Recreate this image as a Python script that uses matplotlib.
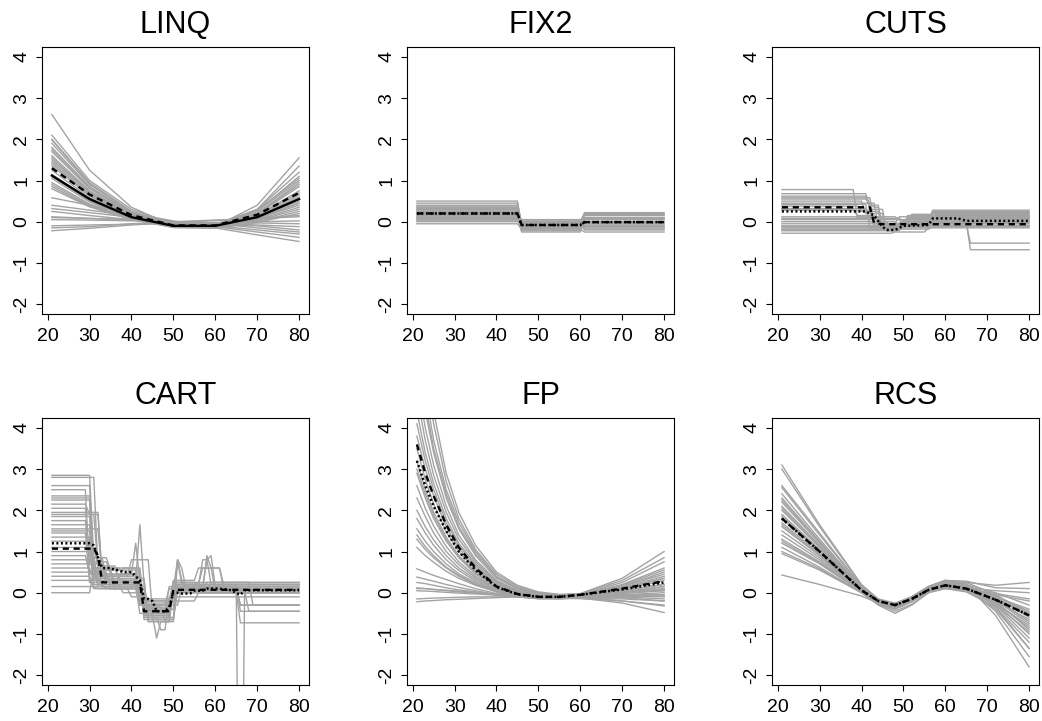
import numpy as np
import matplotlib
matplotlib.use("Agg")
import matplotlib.pyplot as plt

plt.rcParams['font.family'] = ['Liberation Sans', 'DejaVu Sans']
plt.rcParams['axes.unicode_minus'] = False

GREY = '#a3a3a3'

# ---------------- LINQ ----------------
linq_x = [21, 30, 40, 50, 60, 70, 80]
linq_grey = [
    [2.6, 1.25, 0.35, -0.1, -0.12, 0.4, 1.55],
    [2.1, 1.0, 0.3, -0.05, -0.1, 0.3, 1.2],
    [2.0, 0.95, 0.25, -0.08, -0.1, 0.25, 1.0],
    [1.9, 0.9, 0.25, -0.06, -0.08, 0.3, 1.35],
    [1.8, 0.85, 0.2, -0.1, -0.1, 0.2, 0.9],
    [1.7, 0.8, 0.2, -0.08, -0.12, 0.15, 0.75],
    [1.6, 0.75, 0.18, -0.1, -0.08, 0.25, 1.1],
    [1.5, 0.72, 0.17, -0.09, -0.1, 0.15, 0.7],
    [1.45, 0.68, 0.15, -0.1, -0.12, 0.1, 0.55],
    [1.35, 0.62, 0.13, -0.11, -0.1, 0.18, 0.85],
    [1.25, 0.58, 0.12, -0.1, -0.11, 0.1, 0.5],
    [1.15, 0.53, 0.1, -0.12, -0.12, 0.08, 0.45],
    [1.05, 0.48, 0.08, -0.12, -0.1, 0.12, 0.6],
    [0.95, 0.43, 0.06, -0.13, -0.12, 0.05, 0.35],
    [0.85, 0.38, 0.05, -0.12, -0.13, 0.03, 0.3],
    [0.8, 0.36, 0.05, -0.1, -0.08, 0.08, 0.4],
    [1.98, 0.92, 0.22, -0.12, -0.15, 0.12, 0.65],
    [1.75, 0.83, 0.21, -0.07, -0.06, 0.28, 1.05],
    [1.55, 0.72, 0.16, -0.13, -0.14, 0.08, 0.45],
    [1.4, 0.65, 0.14, -0.09, -0.07, 0.2, 0.95],
    [1.1, 0.5, 0.09, -0.14, -0.15, 0.0, 0.25],
    [0.9, 0.4, 0.05, -0.14, -0.16, -0.02, 0.2],
    [0.58, 0.4, 0.2, 0.02, -0.15, -0.32, -0.48],
    [0.4, 0.28, 0.14, 0.0, -0.12, -0.25, -0.38],
    [0.32, 0.22, 0.11, 0.0, -0.1, -0.2, -0.3],
    [0.12, 0.08, 0.04, 0.0, -0.04, -0.08, -0.12],
    [0.05, 0.04, 0.02, 0.0, -0.02, -0.03, -0.05],
    [-0.15, -0.12, -0.05, 0.0, 0.04, 0.08, 0.12],
    [-0.22, -0.16, -0.08, -0.02, 0.03, 0.08, 0.15],
    [0.25, 0.15, 0.05, -0.05, -0.08, -0.1, -0.2],
    [-0.1, -0.08, -0.06, -0.04, -0.02, 0.0, 0.02],
    [0.1, 0.08, 0.05, 0.0, -0.05, -0.15, -0.25],
]
linq_true = [1.12, 0.55, 0.11, -0.1, -0.1, 0.11, 0.55]
linq_mean = [1.3, 0.66, 0.16, -0.09, -0.09, 0.17, 0.7]

# ---------------- FIX2 ----------------
fix2_starts = [21, 46, 61]
fix2_grey = [
    [0.5, -0.1, 0.0], [0.45, -0.05, 0.15], [0.4, -0.2, 0.1], [0.35, 0.0, -0.1],
    [0.3, -0.1, 0.22], [0.25, -0.15, -0.05], [0.2, -0.08, 0.0], [0.15, 0.05, -0.2],
    [0.1, -0.25, 0.05], [0.05, -0.12, -0.15], [0.0, -0.02, 0.1], [-0.05, -0.18, -0.25],
    [0.28, -0.06, 0.18], [0.18, -0.22, -0.02], [0.12, -0.04, 0.08], [0.38, -0.14, -0.12],
    [0.22, 0.02, 0.2], [0.08, -0.09, -0.08], [0.32, -0.17, 0.05], [0.02, -0.07, -0.18],
]
fix2_mean = [0.2, -0.08, -0.01]
fix2_median = [0.2, -0.08, -0.01]

# ---------------- CUTS ----------------
cuts_starts = [
    [21, 39, 45, 50, 57], [21, 42, 45, 51, 57], [21, 42, 46, 50, 57], [21, 43, 49, 57],
    [21, 42, 44, 51, 58], [21, 41, 46, 50, 56], [21, 43, 45, 52, 57], [21, 42, 49, 57],
    [21, 40, 45, 50, 57], [21, 42, 47, 51, 58], [21, 39, 44, 50, 57], [21, 43, 50, 56],
    [21, 49, 57], [21, 50, 58], [21, 49, 56], [21, 50, 57], [21, 49, 57, 66],
    [21, 50, 57], [21, 49, 57, 66], [21, 49, 57], [21, 48, 56], [21, 50, 57],
    [21, 49, 57], [21, 50, 58],
]
cuts_levels = [
    [0.78, 0.1, -0.15, 0.0, 0.28], [0.68, 0.4, -0.1, 0.1, 0.25], [0.62, 0.3, -0.2, 0.05, 0.2],
    [0.58, -0.05, 0.12, 0.22], [0.55, 0.45, -0.12, 0.15, 0.18], [0.5, 0.2, -0.22, -0.05, 0.15],
    [0.45, 0.35, -0.08, 0.18, 0.12], [0.42, -0.15, -0.02, 0.1], [0.38, 0.25, -0.18, 0.0, 0.08],
    [0.32, 0.0, -0.12, 0.08, 0.05], [0.3, 0.15, -0.05, -0.1, 0.0], [0.28, -0.1, -0.05, -0.08],
    [0.12, 0.05, 0.15], [0.05, -0.05, 0.1], [0.0, -0.12, -0.02], [-0.05, 0.0, 0.05],
    [-0.1, -0.15, -0.05, -0.52], [-0.15, -0.08, -0.1], [-0.18, -0.12, 0.0, -0.68],
    [-0.22, -0.18, -0.12], [-0.28, -0.25, -0.15], [-0.12, -0.1, 0.02], [-0.2, -0.05, -0.04],
    [0.08, 0.02, 0.12],
]
cuts_mean_x = [21, 42, 43, 45, 80]
cuts_mean = [0.35, 0.35, -0.03, -0.06, -0.06]
cuts_med_x = [21, 41, 43, 45, 46, 48, 50, 56, 57, 63, 65, 80]
cuts_med = [0.25, 0.25, 0.15, -0.12, -0.2, -0.2, -0.1, -0.08, 0.08, 0.08, 0.02, 0.02]

# ---------------- CART ----------------
cart_starts = [
    [21, 31, 34, 43, 50, 57], [21, 32, 36, 42, 49, 51, 52, 58], [21, 31, 37, 43, 51, 61],
    [21, 30, 33, 44, 50], [21, 31, 35, 41, 42, 44, 50, 58, 59, 60],
    [21, 31, 34, 43, 48, 50], [21, 30, 32, 42, 43, 44, 47, 49, 51],
    [21, 32, 38, 43, 46, 47, 50, 57], [21, 31, 33, 43, 51, 52, 53, 66],
    [21, 30, 34, 42, 50, 56, 62, 66], [21, 33, 40, 45, 50, 58],
    [21, 31, 36, 44, 51, 57, 59, 60], [21, 31, 35, 43, 49, 66, 67],
    [21, 31, 33, 42, 45, 50, 66], [21, 32, 37, 43, 50, 59, 69],
    [21, 31, 34, 41, 44, 51, 52, 53], [21, 30, 36, 43, 50], [21, 31, 35, 43, 50, 57, 62],
    [21, 32, 42, 49, 56], [21, 31, 39, 43, 51], [21, 32, 38, 44, 50],
    [21, 31, 42, 44, 50, 66], [21, 31, 43, 50], [21, 32, 40, 43, 50, 56],
    [21, 31, 42, 51], [21, 30, 33, 41, 43, 49, 52, 58, 59], [21, 33, 38, 43, 50],
    [21, 31, 35, 43, 50, 60, 68], [21, 31, 36, 43, 50], [21, 30, 35, 43, 50],
]
cart_levels = [
    [2.85, 0.85, 0.4, -0.55, 0.2, 0.15], [2.8, 0.55, 0.2, -0.3, 0.1, 0.8, 0.2, 0.1],
    [2.6, 0.6, 0.35, -0.65, 0.05, 0.2], [2.5, 0.3, 0.15, -0.45, 0.15],
    [2.35, 0.75, 0.45, 1.2, 0.3, -0.6, 0.1, 0.9, 0.6, 0.05],
    [2.25, 0.5, 0.25, -0.35, -0.7, 0.25], [2.05, 0.9, 0.3, 1.65, 0.2, -0.6, -0.9, -0.1, 0.1],
    [1.9, 0.6, 0.45, -0.55, -1.1, -0.7, 0.1, 0.0], [1.85, 0.5, 0.15, -0.4, 0.8, 0.3, 0.15, -0.3],
    [1.75, 0.7, 0.25, -0.2, 0.3, 0.6, 0.2, -0.45], [1.55, 0.4, 0.8, -0.5, 0.05, 0.25],
    [1.5, 0.35, 0.1, -0.65, 0.2, 0.8, 0.9, 0.15], [1.35, 0.5, 0.1, -0.45, 0.15, -10.0, 0.0],
    [1.25, 0.3, 0.45, -0.3, -0.55, 0.0, -0.73], [1.1, 0.65, 0.3, -0.25, 0.1, 0.25, -0.3],
    [1.0, 0.2, 0.1, 0.35, -0.7, 0.8, 0.6, 0.1], [0.9, 0.45, 0.25, -0.2, 0.05],
    [0.8, 0.85, 0.55, -0.35, 0.2, 0.6, 0.1], [0.7, 0.15, -0.5, -0.2, 0.0],
    [0.6, 0.3, 0.25, -0.6, 0.15], [0.5, 0.2, 0.0, -0.4, -0.1],
    [0.4, 0.1, -0.25, -0.7, 0.1, -0.3], [0.3, 0.15, -0.3, 0.1], [0.15, 0.1, -0.1, -0.45, 0.25, 0.2],
    [0.0, 0.6, -0.15, 0.05], [2.15, 1.9, 0.4, 0.5, -0.5, -0.3, 0.15, 0.8, 0.2],
    [1.95, 0.35, 0.6, -0.4, 0.0], [2.3, 0.4, 0.2, -0.6, 0.15, 0.05, -0.45],
    [1.65, 0.55, 0.2, -0.55, 0.1], [1.45, 0.25, 0.3, -0.3, 0.2],
]
cart_mean_starts = [21, 32, 33, 43, 50]
cart_mean = [1.07, 0.9, 0.25, -0.45, 0.07]
cart_med_starts = [21, 31, 32, 33, 36, 38, 41, 42, 43, 45, 46, 49, 50, 52, 55, 58, 62,
                   64, 65, 66, 67]
cart_med = [1.2, 1.15, 0.85, 0.6, 0.55, 0.5, 0.4, 0.3, -0.15, -0.2, -0.45, -0.35, 0.0,
            -0.02, 0.05, 0.1, 0.08, 0.05, 0.0, -0.05, 0.06]

# ---------------- FP ----------------
fp_x = [21, 23, 25, 28, 31, 35, 40, 45, 50, 55, 60, 70, 80]
fp_grey = [
    [7.5, 5.5, 4.1, 2.7, 1.8, 1.05, 0.45, 0.15, 0.0, -0.05, -0.05, 0.2, 0.6],
    [6.5, 4.9, 3.7, 2.5, 1.7, 1.0, 0.4, 0.12, -0.02, -0.06, -0.04, 0.25, 0.75],
    [5.8, 4.4, 3.4, 2.3, 1.55, 0.9, 0.35, 0.1, -0.03, -0.07, -0.05, 0.15, 0.45],
    [5.2, 4.0, 3.1, 2.1, 1.4, 0.8, 0.3, 0.06, -0.05, -0.08, -0.06, 0.1, 0.35],
    [4.8, 3.7, 2.85, 1.95, 1.3, 0.75, 0.28, 0.05, -0.06, -0.08, -0.05, 0.18, 0.55],
    [4.4, 3.4, 2.65, 1.8, 1.2, 0.7, 0.25, 0.03, -0.07, -0.09, -0.06, 0.05, 0.2],
    [4.1, 3.2, 2.5, 1.7, 1.15, 0.65, 0.22, 0.02, -0.08, -0.1, -0.07, 0.08, 0.3],
    [3.8, 3.0, 2.35, 1.6, 1.08, 0.6, 0.2, 0.0, -0.09, -0.1, -0.06, 0.12, 0.4],
    [3.5, 2.75, 2.15, 1.48, 1.0, 0.55, 0.18, -0.01, -0.1, -0.11, -0.07, 0.05, 0.2],
    [3.2, 2.5, 1.95, 1.35, 0.9, 0.5, 0.16, -0.02, -0.1, -0.11, -0.08, 0.0, 0.1],
    [2.9, 2.3, 1.8, 1.25, 0.85, 0.45, 0.15, -0.03, -0.11, -0.12, -0.08, 0.1, 0.35],
    [2.6, 2.05, 1.62, 1.12, 0.75, 0.4, 0.12, -0.04, -0.12, -0.12, -0.08, -0.02, 0.05],
    [2.3, 1.85, 1.45, 1.0, 0.68, 0.36, 0.1, -0.05, -0.12, -0.13, -0.09, 0.02, 0.15],
    [2.0, 1.6, 1.28, 0.9, 0.6, 0.32, 0.08, -0.06, -0.12, -0.12, -0.08, 0.0, 0.08],
    [1.8, 1.45, 1.15, 0.8, 0.54, 0.28, 0.06, -0.07, -0.13, -0.13, -0.09, -0.05, -0.05],
    [1.55, 1.25, 1.0, 0.7, 0.46, 0.24, 0.04, -0.08, -0.13, -0.12, -0.09, -0.08, -0.1],
    [1.4, 1.12, 0.9, 0.62, 0.42, 0.21, 0.03, -0.09, -0.14, -0.13, -0.1, -0.1, -0.15],
    [1.1, 0.9, 0.74, 0.52, 0.35, 0.18, 0.02, -0.1, -0.15, -0.14, -0.1, -0.12, -0.2],
    [0.58, 0.5, 0.42, 0.32, 0.22, 0.1, -0.02, -0.1, -0.14, -0.15, -0.12, -0.2, -0.3],
    [0.38, 0.33, 0.28, 0.2, 0.13, 0.05, -0.04, -0.1, -0.13, -0.14, -0.13, -0.25, -0.48],
    [0.25, 0.22, 0.18, 0.12, 0.07, 0.02, -0.05, -0.1, -0.13, -0.14, -0.14, -0.2, -0.32],
    [0.12, 0.1, 0.08, 0.05, 0.02, -0.01, -0.05, -0.09, -0.12, -0.13, -0.14, -0.15, -0.2],
    [0.05, 0.04, 0.03, 0.01, -0.01, -0.03, -0.06, -0.09, -0.11, -0.12, -0.12, -0.1, -0.08],
    [-0.15, -0.14, -0.13, -0.12, -0.11, -0.1, -0.1, -0.1, -0.1, -0.1, -0.1, -0.08, -0.05],
    [-0.22, -0.2, -0.19, -0.17, -0.16, -0.14, -0.12, -0.1, -0.09, -0.08, -0.06, 0.0, 0.05],
    [8.5, 6.0, 4.4, 2.9, 1.95, 1.15, 0.5, 0.18, 0.02, -0.04, -0.02, 0.35, 1.0],
    [6.0, 4.6, 3.5, 2.4, 1.6, 0.95, 0.38, 0.1, -0.02, -0.06, -0.03, 0.3, 0.85],
    [3.0, 2.4, 1.88, 1.3, 0.88, 0.48, 0.15, -0.02, -0.1, -0.11, -0.07, 0.15, 0.5],
    [1.3, 1.05, 0.85, 0.6, 0.4, 0.2, 0.03, -0.08, -0.13, -0.13, -0.1, -0.05, 0.0],
    [0.1, 0.1, 0.08, 0.06, 0.04, 0.0, -0.04, -0.08, -0.12, -0.14, -0.13, 0.0, 0.15],
]
fp_mean = [3.6, 2.9, 2.35, 1.65, 1.1, 0.6, 0.15, -0.03, -0.1, -0.1, -0.05, 0.1, 0.28]
fp_med = [3.2, 2.6, 2.1, 1.5, 1.0, 0.55, 0.14, -0.04, -0.1, -0.1, -0.05, 0.08, 0.25]

# ---------------- RCS ----------------
rcs_x = [21, 30, 40, 44, 48, 52, 56, 60, 65, 72, 80]
rcs_grey = [
    [3.1, 1.65, 0.2, -0.15, -0.25, -0.1, 0.15, 0.3, 0.2, -0.55, -1.8],
    [3.0, 1.6, 0.18, -0.18, -0.3, -0.12, 0.12, 0.25, 0.15, -0.45, -1.55],
    [2.55, 1.4, 0.15, -0.2, -0.32, -0.15, 0.1, 0.2, 0.1, -0.4, -1.35],
    [2.4, 1.3, 0.12, -0.22, -0.35, -0.17, 0.08, 0.2, 0.12, -0.3, -1.1],
    [2.3, 1.25, 0.1, -0.2, -0.3, -0.12, 0.12, 0.25, 0.2, -0.2, -0.9],
    [2.2, 1.2, 0.1, -0.25, -0.4, -0.22, 0.05, 0.15, 0.1, -0.25, -1.0],
    [2.1, 1.15, 0.08, -0.2, -0.28, -0.1, 0.15, 0.28, 0.25, -0.05, -0.5],
    [2.0, 1.1, 0.06, -0.22, -0.33, -0.15, 0.1, 0.2, 0.15, -0.15, -0.7],
    [1.9, 1.05, 0.05, -0.25, -0.38, -0.2, 0.05, 0.15, 0.08, -0.25, -0.8],
    [1.8, 1.0, 0.06, -0.2, -0.3, -0.13, 0.1, 0.22, 0.2, 0.0, -0.3],
    [1.7, 0.95, 0.05, -0.22, -0.32, -0.15, 0.08, 0.18, 0.12, -0.12, -0.5],
    [1.6, 0.9, 0.04, -0.25, -0.38, -0.2, 0.05, 0.14, 0.05, -0.3, -0.95],
    [1.5, 0.85, 0.05, -0.2, -0.28, -0.1, 0.15, 0.3, 0.28, 0.12, 0.1],
    [1.4, 0.8, 0.03, -0.26, -0.4, -0.22, 0.02, 0.1, 0.02, -0.35, -1.2],
    [1.3, 0.75, 0.03, -0.23, -0.34, -0.17, 0.07, 0.17, 0.1, -0.1, -0.4],
    [1.2, 0.7, 0.02, -0.28, -0.45, -0.28, 0.0, 0.1, 0.05, -0.2, -0.65],
    [1.1, 0.62, 0.0, -0.22, -0.3, -0.12, 0.12, 0.25, 0.25, 0.18, 0.25],
    [1.0, 0.58, 0.0, -0.3, -0.5, -0.3, 0.0, 0.12, 0.08, -0.15, -0.55],
    [0.95, 0.55, 0.0, -0.24, -0.35, -0.18, 0.05, 0.15, 0.1, -0.05, -0.2],
    [0.43, 0.2, -0.08, -0.25, -0.35, -0.18, 0.05, 0.15, 0.12, 0.05, 0.0],
    [2.6, 1.45, 0.15, -0.18, -0.28, -0.1, 0.15, 0.3, 0.22, -0.35, -1.35],
    [1.85, 1.02, 0.07, -0.21, -0.31, -0.14, 0.1, 0.2, 0.16, -0.08, -0.45],
    [2.05, 1.12, 0.08, -0.22, -0.34, -0.16, 0.08, 0.18, 0.12, -0.18, -0.75],
    [1.65, 0.92, 0.04, -0.24, -0.36, -0.19, 0.06, 0.16, 0.1, -0.02, -0.15],
    [1.25, 0.72, 0.03, -0.25, -0.38, -0.2, 0.04, 0.13, 0.05, -0.25, -0.85],
    [2.25, 1.22, 0.09, -0.21, -0.32, -0.14, 0.11, 0.22, 0.18, -0.1, -0.6],
]
rcs_mean = [1.8, 1.0, 0.06, -0.2, -0.3, -0.15, 0.07, 0.18, 0.1, -0.17, -0.55]


def step_xy(starts, levels, end=80):
    # R-style step curve evaluated at integer ages: flat pieces joined by 1-year slopes
    xs, ys = [], []
    for i, (s, v) in enumerate(zip(starts, levels)):
        e = starts[i + 1] - 1 if i + 1 < len(starts) else end
        xs += [s, e]
        ys += [v, v]
    return xs, ys


DASH = dict(color='black', lw=1.7, linestyle=(0, (2.6, 2.0)))
DOT = dict(color='black', lw=1.8, linestyle=(0, (0.8, 1.0)))
SOLID = dict(color='black', lw=1.7)
THIN = dict(color=GREY, lw=1.0)

fig = plt.figure(figsize=(10.42, 7.21), dpi=100)
lefts = [0.0403, 0.3906, 0.7409]
bottoms = [0.5645, 0.0499]
W, H = 0.2562, 0.3703
axs = [[fig.add_axes([l, b, W, H]) for l in lefts] for b in bottoms]

# LINQ
ax = axs[0][0]
for y in linq_grey:
    ax.plot(linq_x, y, **THIN)
ax.plot(linq_x, linq_true, **SOLID)
ax.plot(linq_x, linq_mean, **DASH)

# FIX2
ax = axs[0][1]
for lv in fix2_grey:
    ax.plot(*step_xy(fix2_starts, lv), **THIN)
ax.plot(*step_xy(fix2_starts, fix2_mean), **DASH)
ax.plot(*step_xy(fix2_starts, fix2_median), **DOT)

# CUTS
ax = axs[0][2]
for s, lv in zip(cuts_starts, cuts_levels):
    ax.plot(*step_xy(s, lv), **THIN)
ax.plot(cuts_mean_x, cuts_mean, **DASH)
ax.plot(cuts_med_x, cuts_med, **DOT)

# CART
ax = axs[1][0]
for s, lv in zip(cart_starts, cart_levels):
    ax.plot(*step_xy(s, lv), **THIN)
ax.plot(*step_xy(cart_mean_starts, cart_mean), **DASH)
ax.plot(*step_xy(cart_med_starts, cart_med), **DOT)

# FP
ax = axs[1][1]
for y in fp_grey:
    ax.plot(fp_x, y, **THIN)
ax.plot(fp_x, fp_mean, **DASH)
ax.plot(fp_x, fp_med, **DOT)

# RCS
ax = axs[1][2]
for y in rcs_grey:
    ax.plot(rcs_x, y, **THIN)
ax.plot(rcs_x, rcs_mean, **DASH)
ax.plot(rcs_x, rcs_mean, **DOT)

titles = [['LINQ', 'FIX2', 'CUTS'], ['CART', 'FP', 'RCS']]
for r in range(2):
    for c in range(3):
        ax = axs[r][c]
        ax.set_xlim(18.64, 82.36)
        ax.set_ylim(-2.24, 4.24)
        ax.set_xticks([20, 30, 40, 50, 60, 70, 80])
        ax.set_yticks([-2, -1, 0, 1, 2, 3, 4])
        ax.tick_params(direction='out', length=4.3, width=0.8, labelsize=14, color='black')
        ax.tick_params(axis='x', pad=6)
        ax.tick_params(axis='y', pad=4)
        for lab in ax.get_yticklabels():
            lab.set_rotation(90)
            lab.set_va('center')
        for sp in ax.spines.values():
            sp.set_linewidth(0.8)
            sp.set_color('black')
        ax.set_title(titles[r][c], fontsize=22, pad=10)

fig.savefig('out.png', dpi=100)
